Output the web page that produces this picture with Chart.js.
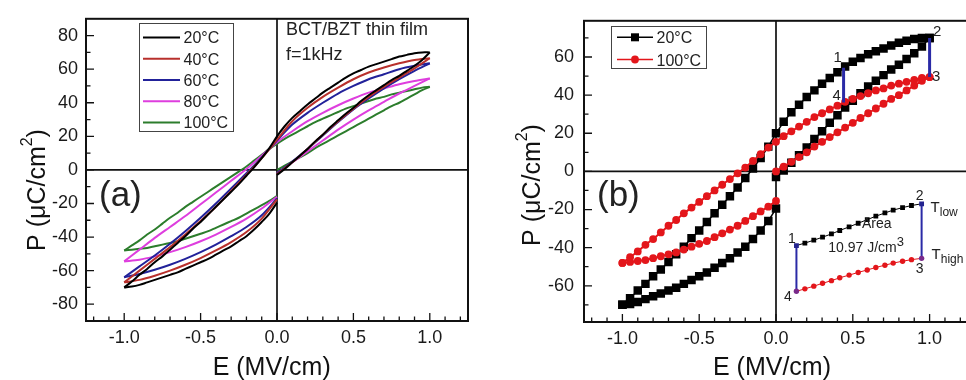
<!DOCTYPE html>
<html lang="en">
<head>
<meta charset="UTF-8">
<title>BCT/BZT P-E loops</title>
<style>
  html, body { margin: 0; padding: 0; background: #fff; overflow: hidden; }
  #wrap { position: relative; width: 966px; height: 380px; overflow: hidden; }
  #chartA { position: absolute; left: 0; top: 0; }
  #chartB { position: absolute; left: 486px; top: 0; }
</style>
</head>
<body>
<div id="wrap">
  <canvas id="chartA" width="483" height="380"></canvas>
  <canvas id="chartB" width="490" height="380"></canvas>
</div>

<script src="https://cdn.jsdelivr.net/npm/chart.js"></script>
<script>
// ---- field values (MV/cm) for each branch of a loop ----
const eRise = [0, 0.1, 0.2, 0.3, 0.4, 0.5, 0.6, 0.7, 0.8, 0.9, 1.0];
const eFall = [1.0, 0.9, 0.8, 0.7, 0.6, 0.5, 0.4, 0.3, 0.2, 0.1, 0, -0.1, -0.2, -0.3, -0.4, -0.5, -0.6, -0.7, -0.8, -0.9, -1.0];
const eBack = [-1.0, -0.9, -0.8, -0.7, -0.6, -0.5, -0.4, -0.3, -0.2, -0.1, 0];
const eRiseFine = [0, 0.05, 0.1, 0.15, 0.2, 0.25, 0.3, 0.35, 0.4, 0.45, 0.5, 0.55, 0.6, 0.65, 0.7, 0.75, 0.8, 0.85, 0.9, 0.95, 1];
const eFallFine = [1, 0.95, 0.9, 0.85, 0.8, 0.75, 0.7, 0.65, 0.6, 0.55, 0.5, 0.45, 0.4, 0.35, 0.3, 0.25, 0.2, 0.15, 0.1, 0.05, 0,
  -0.05, -0.1, -0.15, -0.2, -0.25, -0.3, -0.35, -0.4, -0.45, -0.5, -0.55, -0.6, -0.65, -0.7, -0.75, -0.8, -0.85, -0.9, -0.95, -1];
const eBackFine = [-1, -0.95, -0.9, -0.85, -0.8, -0.75, -0.7, -0.65, -0.6, -0.55, -0.5, -0.45, -0.4, -0.35, -0.3, -0.25, -0.2, -0.15, -0.1, -0.05, 0];

// ---- polarization (uC/cm2) ----
// 20°C, measured points (also the squares of panel b)
const rise20 = [-3, 0.5, 4.5, 8.5, 12.5, 17, 21, 25.5, 29.5, 33.5, 37, 41, 44.5, 47.5, 50.5, 53.5, 56, 59, 62, 65.5, 70];
const fall20 = [70, 70, 69.5, 68.5, 67.5, 66, 64.5, 63, 61.5, 59.5, 57.5, 55, 52, 49, 46, 42.5, 39, 35, 31, 26, 20,
  13, 7, 1.5, -3.5, -8.5, -13, -17.5, -22, -26.5, -31, -35, -39.5, -43.5, -47.5, -51.5, -55, -59, -62.5, -66.5, -70];
const back20 = [-70, -69.5, -68.5, -67, -65.5, -64, -62.5, -61, -59, -57, -55, -53, -50.5, -48, -45.5, -42.5, -39.5, -35.5, -31, -26, -19.5];

// 100°C (circles of panel b)
const rise100 = [0, 2.5, 5, 7.5, 10, 13, 15.5, 18, 20.5, 23, 25.5, 28, 30.5, 33, 35.5, 38, 40, 42.5, 45, 47.5, 49.5];
const fall100 = [49.5, 49, 48, 47, 46, 45, 43.5, 42.5, 41, 39.5, 38, 36.5, 34.5, 32.5, 30.5, 28.5, 26, 23.5, 21, 18.5, 15.5,
  12.5, 9, 5.5, 2, -1, -4, -7, -10, -13, -16, -19, -22, -25.5, -28.5, -32, -35.5, -38.5, -42, -45, -48];
const back100 = [-48, -47.5, -47, -46.5, -45.5, -44.5, -43.5, -42.5, -41, -39.5, -38, -36.5, -34.5, -32.5, -30.5, -28.5, -26, -23.5, -21, -18.5, -15.5];

const rise40 = [-2.5, 4.5, 12.5, 21, 29, 36.5, 43.5, 49.5, 55, 60.5, 66.5];
const fall40 = [66.5, 65.5, 63.5, 61, 58, 54, 49, 43.5, 37, 29, 18, 7, -3, -12.5, -22, -30.5, -38.5, -46, -53, -60, -67];
const back40 = [-67, -65.5, -63, -60, -56.5, -52.5, -48, -43, -37, -29, -17.5];

const rise60 = [-2, 5, 12.5, 20.5, 28.5, 36, 42.5, 48.5, 54, 59, 63.5];
const fall60 = [63.5, 62, 60, 57, 54, 50, 45.5, 40, 34, 27, 17.5, 7.5, -2, -11, -20, -28.5, -36.5, -44, -51, -57.5, -64];
const back60 = [-64, -62, -59.5, -56.5, -53, -49, -44.5, -39.5, -34, -27, -17];

const rise80 = [-2, 4.5, 11, 17.5, 24, 30, 35.5, 40.5, 45.5, 50, 54.5];
const fall80 = [54.5, 53, 51, 48.5, 46, 42.5, 38.5, 34, 29, 23, 16.5, 8.5, 0.5, -6.5, -13.5, -20.5, -27.5, -34, -40.5, -47.5, -54.5];
const back80 = [-54.5, -53.5, -51.5, -49, -46, -42.5, -38.5, -34, -29, -23, -16];

// Olsen cycle (panel b): field of the two vertical legs, and P at each end
const cycleE = [0.44, 1.0];
const cycleP20 = [54.4, 70];
const cycleP100 = [36.1, 49.5];

// inset of panel b (plotted in the same E-P frame)
const insetE = [0.133, 0.188, 0.246, 0.303, 0.361, 0.415, 0.476, 0.535, 0.594, 0.650, 0.709, 0.763, 0.824, 0.882, 0.948];
const insetP20 = [-38.9, -37.6, -36.1, -34.5, -32.8, -31.0, -29.1, -27.2, -25.3, -23.5, -21.8, -20.3, -19.0, -17.9, -17.0];
const insetP100 = [-62.9, -61.6, -60.2, -58.7, -57.3, -55.8, -54.4, -53.0, -51.7, -50.4, -49.2, -48.1, -47.1, -46.3, -45.6];

// labels / ticks
const tempsA = ['20°C', '40°C', '60°C', '80°C', '100°C'];
const colorsA = ['#000000', '#b8302c', '#22229a', '#de3ede', '#2c7d2c'];
const tempsB = ['20°C', '100°C'];
const xTicks = [-1.0, -0.5, 0, 0.5, 1.0];
const yTicksA = [-80, -60, -40, -20, 0, 20, 40, 60, 80];
const yTicksB = [-60, -40, -20, 0, 20, 40, 60];

const FONT = '"Liberation Sans", Arial, Helvetica, sans-serif';
const BLUE = '#2a2aa6';

function pts(es, ps) { return es.map((e, i) => ({ x: e, y: ps[i] })); }

function axes(yMin, yMax, yTicks, yWidth, yPad, xHeight) {
  return {
    x: {
      type: 'linear', min: -1.25, max: 1.25,
      afterBuildTicks: s => { s.ticks = xTicks.map(v => ({ value: v })); },
      afterFit: s => { s.height = xHeight; },
      grid: { display: false, drawTicks: false }, border: { display: false },
      ticks: { autoSkip: false, maxRotation: 0, padding: 6, color: '#1a1a1a',
        font: { family: FONT, size: 18 }, callback: v => Number(v).toFixed(1) }
    },
    y: {
      type: 'linear', min: yMin, max: yMax,
      afterBuildTicks: s => { s.ticks = yTicks.map(v => ({ value: v })); },
      afterFit: s => { s.width = yWidth; },
      grid: { display: false, drawTicks: false }, border: { display: false },
      ticks: { autoSkip: false, padding: yPad, color: '#1a1a1a',
        font: { family: FONT, size: 18 }, callback: v => String(v) }
    }
  };
}

function zeroLines(chart) {
  const { ctx, chartArea: a, scales: { x, y } } = chart;
  const x0 = x.getPixelForValue(0), y0 = y.getPixelForValue(0);
  ctx.save();
  ctx.strokeStyle = '#111';
  ctx.lineWidth = 1.7;
  ctx.beginPath();
  ctx.moveTo(x0, a.top); ctx.lineTo(x0, a.bottom);
  ctx.moveTo(a.left, y0); ctx.lineTo(a.right, y0);
  ctx.stroke();
  ctx.restore();
}

function frame(chart, yLimit) {
  const { ctx, chartArea: a, scales: { x, y } } = chart;
  ctx.save();
  ctx.strokeStyle = '#111';
  ctx.lineWidth = 1.3;
  ctx.beginPath();
  for (let i = -12; i <= 12; i++) {
    const px = x.getPixelForValue(i / 10);
    const len = i % 5 === 0 ? 8 : 4.5;
    ctx.moveTo(px, a.bottom); ctx.lineTo(px, a.bottom - len);
  }
  for (let v = -yLimit; v <= yLimit; v += 10) {
    const py = y.getPixelForValue(v);
    const len = v % 20 === 0 ? 8 : 4.5;
    ctx.moveTo(a.left, py); ctx.lineTo(a.left + len, py);
  }
  ctx.stroke();
  ctx.lineWidth = 2;
  ctx.strokeRect(a.left, a.top, a.right - a.left, a.bottom - a.top);
  ctx.restore();
}

// text made of runs: [text, size, dy]
function runs(ctx, x, y, parts, align) {
  let w = 0;
  parts.forEach(p => { ctx.font = p[1] + 'px ' + FONT; p.w = ctx.measureText(p[0]).width; w += p.w; });
  let cx = align === 'center' ? x - w / 2 : x;
  ctx.textAlign = 'left';
  ctx.textBaseline = 'alphabetic';
  parts.forEach(p => { ctx.font = p[1] + 'px ' + FONT; ctx.fillText(p[0], cx, y + (p[2] || 0)); cx += p.w; });
}

function titles(ctx, xCenter, yBase, yCenter) {
  ctx.save();
  ctx.fillStyle = '#111';
  runs(ctx, xCenter, 375, [['E (MV/cm)', 25]], 'center');
  ctx.translate(yBase, yCenter);
  ctx.rotate(-Math.PI / 2);
  runs(ctx, 0, 0, [['P (μC/cm', 25], ['2', 16, -13], [')', 25]], 'center');
  ctx.restore();
}

// ---------------- panel (a) ----------------
const loopsA = [
  [[eRiseFine, rise20], [eFallFine, fall20], [eBackFine, back20]],
  [[eRise, rise40], [eFall, fall40], [eBack, back40]],
  [[eRise, rise60], [eFall, fall60], [eBack, back60]],
  [[eRise, rise80], [eFall, fall80], [eBack, back80]],
  [[eRiseFine, rise100], [eFallFine, fall100], [eBackFine, back100]]
];
const datasetsA = [];
loopsA.forEach((loop, k) => loop.forEach(([e, p]) => datasetsA.push({
  data: pts(e, p), showLine: true, borderColor: colorsA[k], borderWidth: 2,
  pointRadius: 0, tension: 0.3, fill: false
})));

const panelA = {
  id: 'panelA',
  beforeDatasetsDraw(chart) { zeroLines(chart); },
  afterDatasetsDraw(chart) {
    const ctx = chart.ctx;
    frame(chart, 80);
    ctx.save();
    // legend
    ctx.fillStyle = '#fff';
    ctx.fillRect(139, 23, 94, 109);
    ctx.strokeStyle = '#444';
    ctx.lineWidth = 1;
    ctx.strokeRect(139.5, 23.5, 94, 108);
    tempsA.forEach((t, i) => {
      const yb = 43.3 + 21.25 * i;
      ctx.strokeStyle = colorsA[i];
      ctx.lineWidth = 2;
      ctx.beginPath(); ctx.moveTo(143, yb - 5.8); ctx.lineTo(180, yb - 5.8); ctx.stroke();
      ctx.fillStyle = '#222';
      runs(ctx, 183.5, yb, [[t, 16]], 'left');
    });
    ctx.fillStyle = '#222';
    runs(ctx, 286, 35, [['BCT/BZT thin film', 18]], 'left');
    runs(ctx, 286, 60, [['f=1kHz', 18]], 'left');
    runs(ctx, 99, 206, [['(a)', 35]], 'left');
    ctx.restore();
    titles(ctx, 271.7, 45, 190);
  }
};

new Chart(document.getElementById('chartA'), {
  type: 'scatter',
  data: { datasets: datasetsA },
  options: {
    responsive: false, animation: false, events: [], devicePixelRatio: 1,
    layout: { padding: { top: 14, right: 15, left: 0, bottom: 0 } },
    plugins: { legend: { display: false }, tooltip: { enabled: false } },
    scales: axes(-90, 90, yTicksA, 86, 8, 59)
  },
  plugins: [panelA]
});

// ---------------- panel (b) ----------------
const datasetsB = [];
[[eRiseFine, rise20], [eFallFine, fall20], [eBackFine, back20]].forEach(([e, p]) => datasetsB.push({
  data: pts(e, p), showLine: true, borderColor: '#000', borderWidth: 1.5, tension: 0,
  pointStyle: 'rect', pointRadius: 6, pointBackgroundColor: '#000', pointBorderWidth: 0, order: 3
}));
[[eRiseFine, rise100], [eFallFine, fall100], [eBackFine, back100]].forEach(([e, p]) => datasetsB.push({
  data: pts(e, p), showLine: true, borderColor: '#e3161b', borderWidth: 2, tension: 0,
  pointStyle: 'circle', pointRadius: 3.9, pointBackgroundColor: '#e3161b', pointBorderWidth: 0, order: 2
}));
cycleE.forEach((e, i) => datasetsB.push({
  data: [{ x: e, y: cycleP20[i] }, { x: e, y: cycleP100[i] }], showLine: true,
  borderColor: BLUE, borderWidth: 3, pointRadius: 0, order: 1
}));
const nIn = insetE.length;
datasetsB.push({
  data: pts(insetE, insetP20), showLine: true, borderColor: '#000', borderWidth: 1, tension: 0,
  pointStyle: 'rect', pointRadius: 3.4, pointBorderWidth: 0, order: 0,
  pointBackgroundColor: c => (c.dataIndex === 0 || c.dataIndex === nIn - 1) ? '#23238f' : '#000'
});
datasetsB.push({
  data: pts(insetE, insetP100), showLine: true, borderColor: '#e3161b', borderWidth: 1, tension: 0,
  pointStyle: 'circle', pointRadius: 2.7, pointBorderWidth: 0, order: 0,
  pointBackgroundColor: c => (c.dataIndex === 0 || c.dataIndex === nIn - 1) ? '#7a2a8a' : '#e3161b'
});
[0, nIn - 1].forEach(i => datasetsB.push({
  data: [{ x: insetE[i], y: insetP20[i] }, { x: insetE[i], y: insetP100[i] }], showLine: true,
  borderColor: BLUE, borderWidth: 2, pointRadius: 0, order: 1
}));

const panelB = {
  id: 'panelB',
  beforeDatasetsDraw(chart) { zeroLines(chart); },
  afterDatasetsDraw(chart) {
    const { ctx, scales: { x, y } } = chart;
    frame(chart, 70);
    ctx.save();
    // legend
    ctx.fillStyle = '#fff';
    ctx.fillRect(125, 26, 95, 42);
    ctx.strokeStyle = '#444';
    ctx.lineWidth = 1;
    ctx.strokeRect(125.5, 26.5, 95, 42);
    [37.3, 59.5].forEach((yl, i) => {
      const col = i === 0 ? '#000' : '#e3161b';
      ctx.strokeStyle = col; ctx.fillStyle = col; ctx.lineWidth = 1.5;
      ctx.beginPath(); ctx.moveTo(131, yl); ctx.lineTo(167, yl); ctx.stroke();
      if (i === 0) ctx.fillRect(145, yl - 4, 8, 8);
      else { ctx.beginPath(); ctx.arc(149, yl, 3.9, 0, Math.PI * 2); ctx.fill(); }
      ctx.fillStyle = '#222';
      runs(ctx, 170.5, yl + 6, [[tempsB[i], 16]], 'left');
    });
    ctx.fillStyle = '#222';
    runs(ctx, 111, 206, [['(b)', 35]], 'left');

    // cycle corner numbers
    const at = (e, p) => [x.getPixelForValue(e), y.getPixelForValue(p)];
    ctx.textAlign = 'center';
    ctx.textBaseline = 'middle';
    ctx.font = '15px ' + FONT;
    let q = at(cycleE[0], cycleP20[0]); ctx.fillText('1', q[0] - 6, q[1] - 10);
    q = at(cycleE[1], cycleP20[1]); ctx.fillText('2', q[0] + 7.5, q[1] - 6.5);
    q = at(cycleE[1], cycleP100[1]); ctx.fillText('3', q[0] + 6.5, q[1] - 0.5);
    q = at(cycleE[0], cycleP100[0]); ctx.fillText('4', q[0] - 7, q[1] - 7);

    // inset labels
    ctx.font = '14px ' + FONT;
    q = at(insetE[0], insetP20[0]); ctx.fillText('1', q[0] - 4.5, q[1] - 6);
    q = at(insetE[0], insetP100[0]); ctx.fillText('4', q[0] - 8.5, q[1] + 6);
    q = at(insetE[nIn - 1], insetP20[nIn - 1]); ctx.fillText('2', q[0] - 2, q[1] - 8);
    const t2 = q;
    q = at(insetE[nIn - 1], insetP100[nIn - 1]); ctx.fillText('3', q[0] - 2, q[1] + 11);
    const t3 = q;
    runs(ctx, t2[0] + 9, t2[1] + 8.5, [['T', 15], ['low', 12, 4]], 'left');
    runs(ctx, t3[0] + 10, t3[1] + 1, [['T', 15], ['high', 12, 4]], 'left');
    runs(ctx, 390.7, 227.5, [['Area', 14]], 'center');
    runs(ctx, 342.3, 251.7, [['10.97 J/cm', 14], ['3', 13, -6]], 'left');
    ctx.restore();
    titles(ctx, 286, 53.5, 185);
  }
};

new Chart(document.getElementById('chartB'), {
  type: 'scatter',
  data: { datasets: datasetsB },
  options: {
    responsive: false, animation: false, events: [], devicePixelRatio: 1,
    layout: { padding: { top: 13, right: 8, left: 0, bottom: 0 } },
    plugins: { legend: { display: false }, tooltip: { enabled: false } },
    scales: axes(-79, 79, yTicksB, 98, 10, 58)
  },
  plugins: [panelB]
});
</script>
</body>
</html>
